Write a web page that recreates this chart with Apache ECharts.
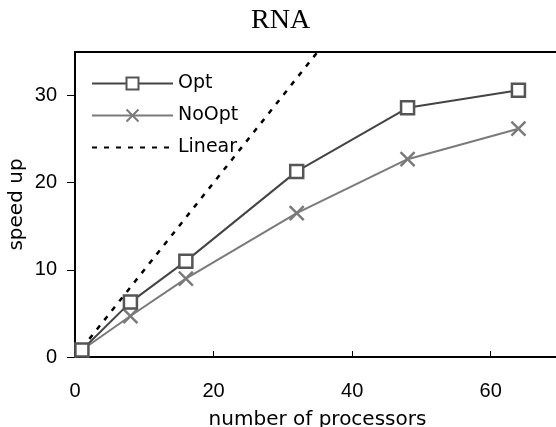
<!DOCTYPE html>
<html>
<head>
<meta charset="utf-8">
<script src="https://cdn.jsdelivr.net/npm/echarts@6/dist/echarts.min.js"></script>
<style>
html,body{margin:0;padding:0;background:#fff;}
#main{width:556px;height:427px;}
</style>
</head>
<body>
<div id="main"></div>
<script>
// processors and speed up values
var procs = [1, 8, 16, 32, 48, 64];
var optVals = [0.8, 6.3, 11.0, 21.3, 28.6, 30.6];
var noOptVals = [0.8, 4.7, 9.0, 16.5, 22.7, 26.2];
var linearVals = [1, 8, 16, 32, 48, 64];
var xTicks = [0, 20, 40, 60];
var yTicks = [0, 10, 20, 30];

function pairs(xs, ys) {
	var out = [];
	for (var i = 0; i < xs.length; i++) {
		out.push([xs[i], ys[i]]);
	}
	return out;
}

var crossPath = 'path://M0,0L10,10M10,0L0,10';

var myChart = echarts.init(document.getElementById('main'));
var option = {
	backgroundColor: '#fff',
	animation: false,
	title: {
		text: 'RNA',
		left: 246,
		top: 2,
		textStyle: {
			fontFamily: 'Liberation Serif',
			fontWeight: 'normal',
			fontSize: 28,
			color: '#000'
		}
	},
	grid: {
		left: 75,
		top: 52,
		width: 485,
		bottom: 70,
		outerBoundsMode: 'none',
		containLabel: false,
		show: true,
		borderColor: '#000',
		borderWidth: 2
	},
	legend: {
		orient: 'vertical',
		left: 86,
		top: 69,
		itemWidth: 81,
		itemHeight: 15,
		itemGap: 13,
		textStyle: {
			fontFamily: 'DejaVu Sans',
			fontSize: 19,
			color: '#000'
		},
		data: ['Opt', 'NoOpt', 'Linear']
	},
	xAxis: {
		type: 'value',
		min: 0,
		max: 70,
		interval: 20,
		name: 'number of processors',
		nameLocation: 'middle',
		nameGap: 53,
		nameMoveOverlap: false,
		nameTextStyle: {
			fontFamily: 'DejaVu Sans',
			fontSize: 20,
			color: '#000'
		},
		axisLine: { show: true, lineStyle: { color: '#000', width: 2 } },
		axisTick: { show: true, inside: true, length: 6, customValues: xTicks, lineStyle: { color: '#000', width: 1 } },
		axisLabel: {
			fontFamily: 'Liberation Sans',
			fontSize: 20,
			color: '#000',
			margin: 24,
			customValues: xTicks
		},
		splitLine: { show: false }
	},
	yAxis: {
		type: 'value',
		min: 0,
		max: 35,
		interval: 10,
		name: 'speed up',
		nameLocation: 'middle',
		nameGap: 48,
		nameMoveOverlap: false,
		nameRotate: 90,
		nameTextStyle: {
			fontFamily: 'DejaVu Sans',
			fontSize: 20,
			color: '#000'
		},
		axisLine: { show: true, lineStyle: { color: '#000', width: 2 } },
		axisTick: { show: true, inside: false, length: 8, customValues: yTicks, lineStyle: { color: '#000', width: 1 } },
		axisLabel: {
			fontFamily: 'Liberation Sans',
			fontSize: 20,
			color: '#000',
			margin: 18,
			customValues: yTicks
		},
		splitLine: { show: false }
	},
	series: [{
		name: 'Opt',
		type: 'line',
		data: pairs(procs, optVals),
		symbol: 'rect',
		symbolSize: 13,
		lineStyle: { color: '#444', width: 2 },
		itemStyle: { color: '#fff', borderColor: '#555', borderWidth: 2.5 },
		z: 3
	}, {
		name: 'NoOpt',
		type: 'line',
		data: pairs(procs, noOptVals),
		symbol: crossPath,
		symbolSize: 14,
		lineStyle: { color: '#7a7a7a', width: 2 },
		itemStyle: { color: 'none', borderColor: '#7a7a7a', borderWidth: 2.5 },
		z: 2
	}, {
		name: 'Linear',
		type: 'line',
		data: pairs(procs, linearVals),
		symbol: 'none',
		clip: true,
		lineStyle: { color: '#000', width: 2.5, type: [5, 7] },
		itemStyle: { color: 'rgba(0,0,0,0)', borderWidth: 0 },
		z: 1
	}]
};
myChart.setOption(option);
</script>
</body>
</html>
